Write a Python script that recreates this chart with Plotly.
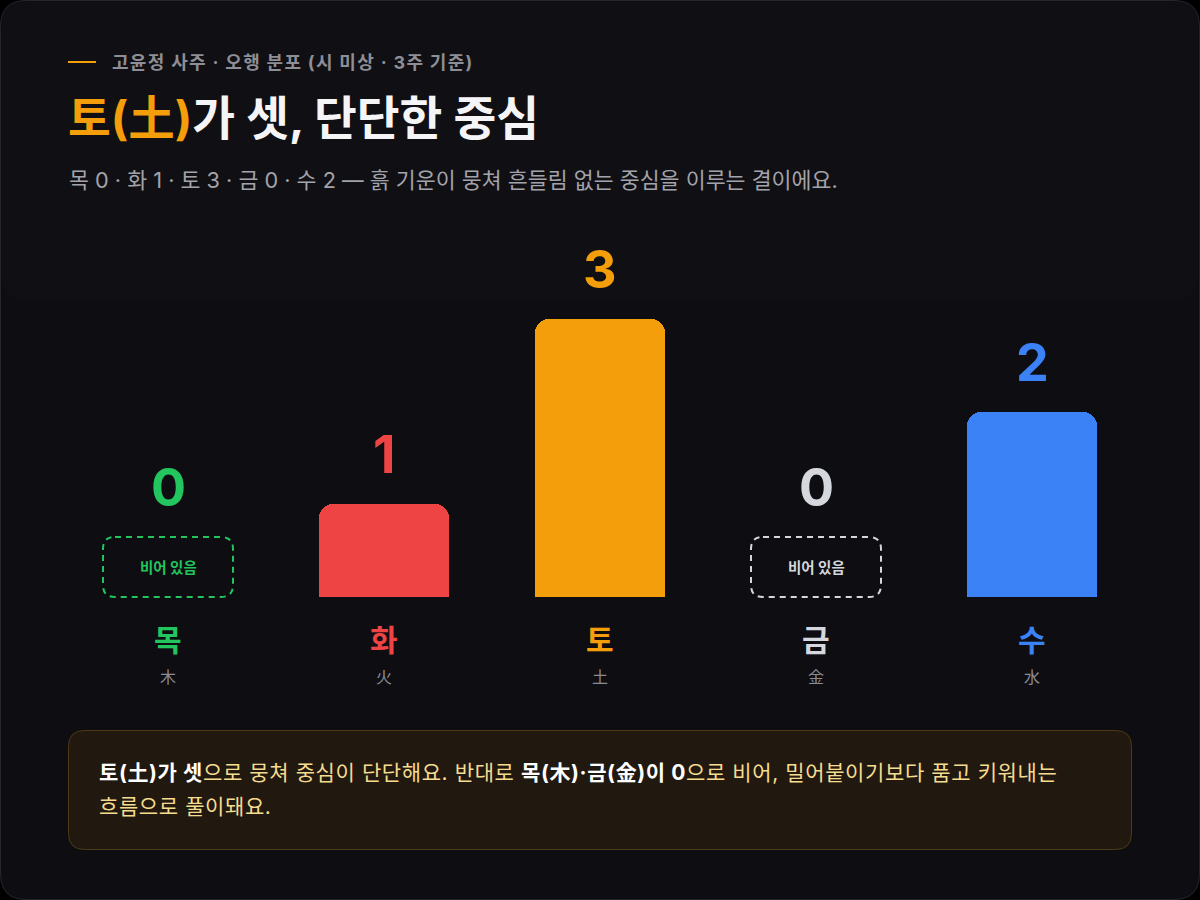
import plotly.graph_objects as go

# ---------------- data ----------------
elements = ["목", "화", "토", "금", "수"]
hanja = ["木", "火", "土", "金", "水"]
counts = [0, 1, 3, 0, 2]
colors = ["#22c55e", "#ef4444", "#f59e0b", "#d4d8de", "#3b82f6"]

kicker = "고윤정 사주 · 오행 분포 (시 미상 · 3주 기준)"
title_accent = "토(土)"
title_rest = "가 셋, 단단한 중심"
description = "목 0 · 화 1 · 토 3 · 금 0 · 수 2 — 흙 기운이 뭉쳐 흔들림 없는 중심을 이루는 결이에요."
empty_label = "비어 있음"
note_line1 = ("<b><span style='color:#ffffff'>토(土)가 셋</span></b>으로 뭉쳐 중심이 단단해요. 반대로 "
              "<b><span style='color:#ffffff'>목(木)·금(金)이 0</span></b>으로 비어, 밀어붙이기보다 품고 키워내는")
note_line2 = "흐름으로 풀이돼요."

# ---------------- geometry helpers ----------------
W, H = 1200, 900
FONT = "Inter, 'Noto Sans CJK KR', sans-serif"


def px(x):
    return x / W


def py(y):
    return 1 - y / H


def rrect(x0, y0, x1, y1, r):
    pts = [
        ("M", [(x0 + r, y0)]), ("L", [(x1 - r, y0)]), ("Q", [(x1, y0), (x1, y0 + r)]),
        ("L", [(x1, y1 - r)]), ("Q", [(x1, y1), (x1 - r, y1)]), ("L", [(x0 + r, y1)]),
        ("Q", [(x0, y1), (x0, y1 - r)]), ("L", [(x0, y0 + r)]), ("Q", [(x0, y0), (x0 + r, y0)]),
    ]
    s = ""
    for cmd, ps in pts:
        s += cmd + " " + " ".join(f"{px(a):.5f},{py(b):.5f}" for a, b in ps) + " "
    return s + "Z"


def spaced(t, ls):
    return f"<span style='letter-spacing:{ls}px'>{t}</span>"


# axis mapping: category i centered at 168 + 216*i px; baseline at y=597 px
x_first, x_step = 168, 216
x_range = [-x_first / x_step, (W - x_first) / x_step]
baseline, unit_px = 597, 278 / 3
y_range = [-(H - baseline) / unit_px, baseline / unit_px]
bar_w = 130 / x_step
idx = list(range(len(elements)))

fig = go.Figure()
fig.add_trace(go.Bar(
    x=idx, y=counts, width=bar_w,
    marker=dict(color=colors, line=dict(width=0), cornerradius=14),
    hoverinfo="skip", showlegend=False,
))

shapes = []
annotations = []

# card background
shapes.append(dict(type="path", path=rrect(0.5, 0.5, W - 0.5, H - 0.5, 26), xref="paper", yref="paper",
                   fillcolor="#0e0e12", line=dict(color="#262630", width=1), layer="below"))
shapes.append(dict(type="path", path=rrect(1.5, 1.5, W - 1.5, 300, 25), xref="paper", yref="paper",
                   fillcolor="rgba(255,255,255,0.012)", line=dict(width=0), layer="below"))

# kicker
shapes.append(dict(type="line", xref="paper", yref="paper", x0=px(68), x1=px(96), y0=py(62), y1=py(62),
                   line=dict(color="#f59e0b", width=2)))
annotations.append(dict(text=f"<b>{spaced(kicker, 1.3)}</b>", x=px(110), y=py(62), xref="paper", yref="paper",
                        xanchor="left", yanchor="middle", showarrow=False,
                        font=dict(family=FONT, size=18, color="#8e8e96")))
annotations.append(dict(text=f"<b><span style='color:#f59e0b'>{title_accent}</span>{title_rest}</b>",
                        x=px(66), y=py(118), xref="paper", yref="paper", xanchor="left", yanchor="middle",
                        showarrow=False, font=dict(family=FONT, size=46.5, color="#f5f5f7")))
annotations.append(dict(text=description, x=px(67), y=py(180), xref="paper", yref="paper",
                        xanchor="left", yanchor="middle", showarrow=False,
                        font=dict(family=FONT, size=21.7, color="#a3a3ab")))

# per-category labels
for i, (el, hj, v, c) in enumerate(zip(elements, hanja, counts, colors)):
    lift = 28 if v > 0 else 60 + 28
    annotations.append(dict(text=f"<b>{v}</b>", x=i, y=v, xref="x", yref="y", yanchor="bottom",
                            yshift=lift - 12, showarrow=False,
                            font=dict(family=FONT, size=52, color=c)))
    annotations.append(dict(text=f"<b>{el}</b>", x=i, y=0, xref="x", yref="y", yanchor="middle",
                            yshift=-43, showarrow=False, font=dict(family=FONT, size=30, color=c)))
    annotations.append(dict(text=hj, x=i, y=0, xref="x", yref="y", yanchor="middle",
                            yshift=-80, showarrow=False, font=dict(family=FONT, size=16, color="#8b8b92")))
    if v == 0:
        cx = x_first + x_step * i
        shapes.append(dict(type="path", path=rrect(cx - 65, baseline - 60, cx + 65, baseline, 12),
                           xref="paper", yref="paper", fillcolor="rgba(0,0,0,0)",
                           line=dict(color=c, width=2, dash="6px,5px")))
        annotations.append(dict(text=f"<b>{empty_label}</b>", x=i, y=0, xref="x", yref="y",
                                yanchor="middle", yshift=30, showarrow=False,
                                font=dict(family=FONT, size=14.5, color=c)))

# note box
shapes.append(dict(type="path", path=rrect(68.5, 730.5, 1131.5, 849.5, 16), xref="paper", yref="paper",
                   fillcolor="#211810", line=dict(color="#4e3a16", width=1), layer="below"))
annotations.append(dict(text=spaced(note_line1, 0.6), x=px(97), y=py(772), xref="paper", yref="paper",
                        xanchor="left", yanchor="middle", showarrow=False,
                        font=dict(family=FONT, size=21, color="#f6dc8e")))
annotations.append(dict(text=spaced(note_line2, 0.6), x=px(97), y=py(806), xref="paper", yref="paper",
                        xanchor="left", yanchor="middle", showarrow=False,
                        font=dict(family=FONT, size=21, color="#f6dc8e")))

fig.update_layout(
    width=W, height=H, margin=dict(l=0, r=0, t=0, b=0),
    paper_bgcolor="#000000", plot_bgcolor="rgba(0,0,0,0)",
    xaxis=dict(range=x_range, visible=False, fixedrange=True),
    yaxis=dict(range=y_range, visible=False, fixedrange=True),
    shapes=shapes, annotations=annotations, bargap=0,
    font=dict(family=FONT), hovermode=False,
)

fig.write_html("out.html", config={"displayModeBar": False})
